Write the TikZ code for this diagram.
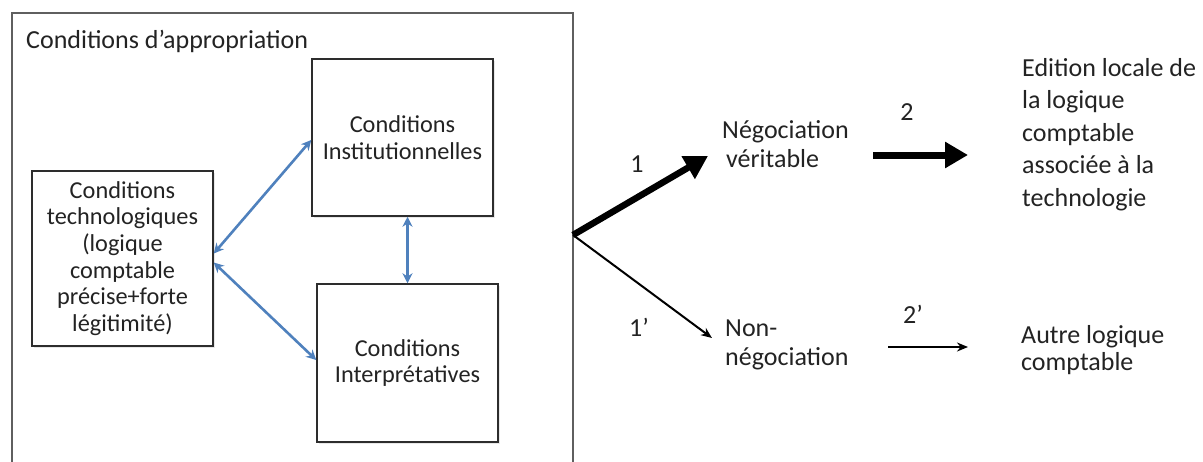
\documentclass[tikz,border=0pt]{standalone}
\usepackage{fontspec}
\setmainfont{Carlito}
\usetikzlibrary{arrows.meta,shadows}
\definecolor{officeblue}{RGB}{79,129,189}
\definecolor{boxline}{RGB}{45,45,45}
\definecolor{frameline}{RGB}{95,95,95}
\definecolor{txt}{RGB}{35,35,35}
\begin{document}
\begin{tikzpicture}[x=1pt,y=-1pt,
  boxfont/.style={font=\fontsize{24.3}{26.7}\selectfont},
  bigfont/.style={font=\fontsize{26}{29}\selectfont},
  condbox/.style={draw=boxline, line width=1.5pt, fill=white, boxfont, text=txt,
    align=center, minimum width=181pt, inner sep=0pt,
    drop shadow={shadow xshift=1.5pt, shadow yshift=-2pt, opacity=0.18}},
  framebox/.style={draw=frameline, line width=1.6pt, inner sep=0pt},
  txtnode/.style={bigfont, text=txt, inner sep=0pt, align=left, anchor=base west},
  numnode/.style={bigfont, text=txt, inner sep=0pt, anchor=base},
  bluearrow/.style={draw=officeblue, line width=2.6pt,
    {Stealth[length=10pt,width=10pt]}-{Stealth[length=10pt,width=10pt]}},
  thickarrow/.style={draw=black, line width=7pt, -{Triangle[length=23pt,width=25pt]}},
  thinarrow/.style={draw=black, line width=2pt, -{Stealth[length=11pt,width=9pt]}}
]
\path[use as bounding box, fill=white] (0,0) rectangle (1203,461);
\clip (0,0) rectangle (1203,461);

% outer frame
\node[framebox, minimum width=561pt, minimum height=457pt] (outer) at (292.5,241.5) {};
\node[txtnode] (title) at (26,48.5) {Conditions d’appropriation};

% condition boxes
\node[condbox, minimum height=175pt] (tech) at (122.5,258.5)
  {Conditions\\technologiques\\(logique\\comptable\\précise+forte\\légitimité)};
\node[condbox, minimum height=157pt] (inst) at (402.5,137.5)
  {Conditions\\Institutionnelles};
\node[condbox, minimum height=158pt] (interp) at (407.5,363)
  {Conditions\\Interprétatives};

% blue double arrows
\draw[bluearrow] ([yshift=5pt]tech.east) -- ([yshift=-2.5pt]inst.west);
\draw[bluearrow] ([yshift=-4pt]tech.east) -- ([yshift=3pt]interp.west);
\draw[bluearrow] (interp.north) -- (interp.north |- inst.south);

% outcome texts (base = last line)
\node[txtnode] (nego) at (722,167) {Négociation\\\hspace*{4pt}véritable};
\node[txtnode] (nonneg) at (725,365) {Non-\\négociation};
\node[txtnode, font=\fontsize{26}{32.5}\selectfont] (edition) at (1022,206)
  {Edition locale de\\la logique\\comptable\\associée à la\\technologie};
\node[txtnode, font=\fontsize{26}{27}\selectfont] (autre) at (1021,370)
  {Autre logique\\comptable};

% numbers
\node[numnode] (n1) at (637,172) {1};
\node[numnode] (n1b) at (639,336) {1’};
\node[numnode] (n2) at (907,120) {2};
\node[numnode] (n2b) at (913,323) {2’};

% black arrows
\coordinate (fork) at (573,235);
\coordinate (t1) at (708,156);
\coordinate (t1b) at (712,338);
\coordinate (s2) at (873,155);
\coordinate (e2) at (968,155);
\coordinate (s2b) at (888,347);
\coordinate (e2b) at (968,347);
\draw[thickarrow, line width=6.5pt] (fork) -- (t1);
\draw[thinarrow] (fork) -- (t1b);
\draw[thickarrow] (s2) -- (e2);
\draw[thinarrow, line width=2.5pt] (s2b) -- (e2b);
\end{tikzpicture}
\end{document}
